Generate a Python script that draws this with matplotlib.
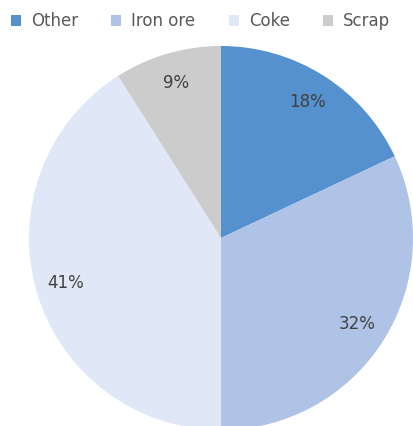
import matplotlib
matplotlib.use("Agg")
import matplotlib.pyplot as plt
from matplotlib.patches import Patch

labels = ["Other", "Iron ore", "Coke", "Scrap"]
shares = [18, 32, 41, 9]
colors = ["#5591CF", "#AEC3E6", "#E0E7F6", "#CCCCCC"]

plt.rcParams.update({"font.family": "DejaVu Sans", "figure.facecolor": "white"})

W, H = 414, 426
fig = plt.figure(figsize=(W / 100, H / 100), dpi=100)

# pie centre (221, 238) px from top-left, radius 192 px
cx, cy, r = 221, 238, 192
ax = fig.add_axes([(cx - r) / W, (H - cy - r) / H, 2 * r / W, 2 * r / H])
wedges, texts, autotexts = ax.pie(
    shares, colors=colors, startangle=90, counterclock=False, radius=1,
    autopct=lambda p: f"{p:.0f}%", pctdistance=0.84,
    wedgeprops={"linewidth": 0},
    textprops={"fontsize": 12, "color": "#404040"},
)
ax.set_xlim(-1, 1)
ax.set_ylim(-1, 1)
ax.set_aspect("equal")
ax.axis("off")

handles = [Patch(facecolor=c, edgecolor="none") for c in colors]
fig.legend(handles, labels, loc="center left", bbox_to_anchor=(11 / W, 1 - 21.5 / H), ncol=4,
           frameon=False, fontsize=12, labelcolor="#595959",
           handlelength=0.6, handleheight=0.6, handletextpad=0.6, columnspacing=2.0,
           borderaxespad=0, borderpad=0)

fig.savefig("out.png", dpi=100)
